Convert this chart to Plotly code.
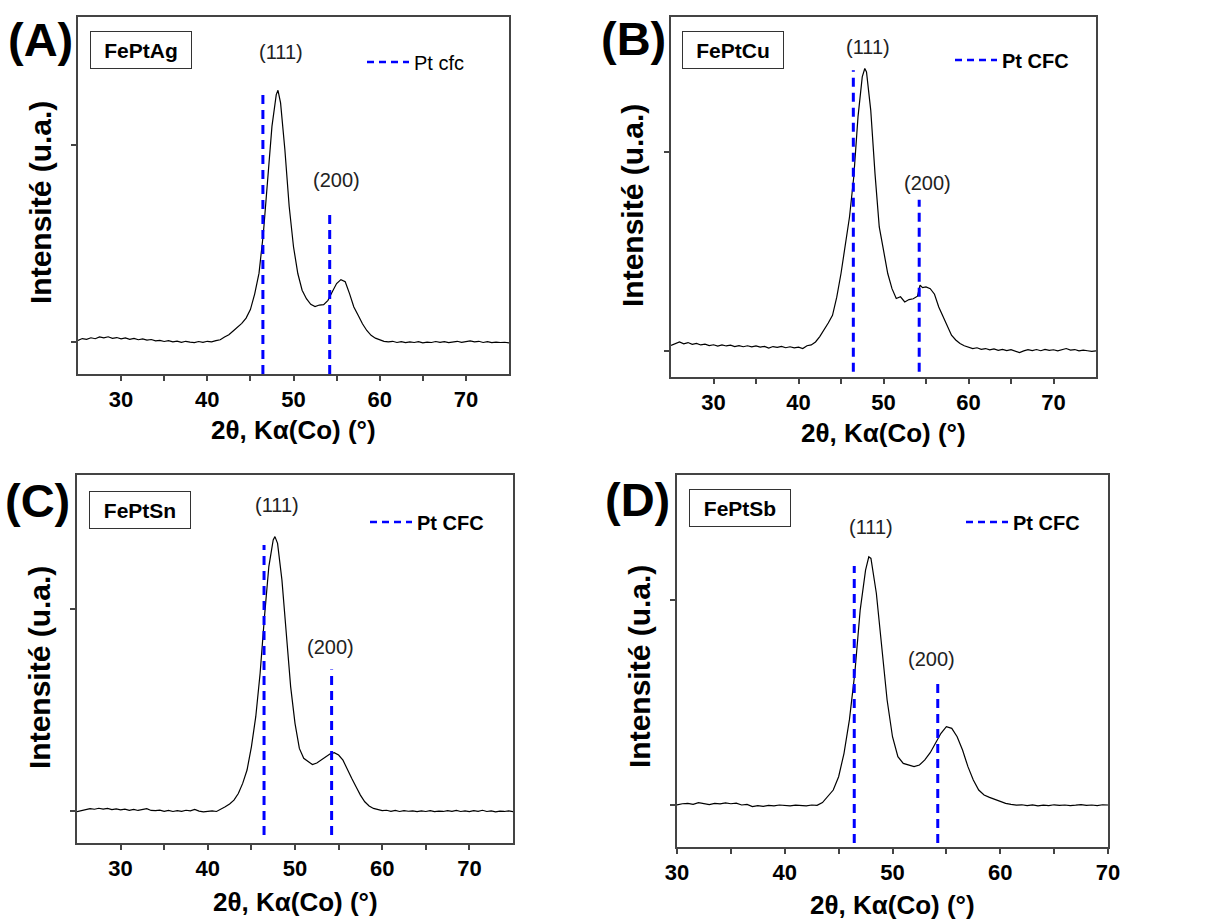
import plotly.graph_objects as go

FONT = "Liberation Sans, Arial, sans-serif"

# ---------------- data ----------------
# Panel A : FePtAg
A_x = [25.0, 25.5, 26.0, 26.5, 27.0, 27.5, 28.0, 28.5, 29.0, 29.5, 30.0, 30.5, 31.0, 31.5, 32.0, 32.5,
       33.0, 33.5, 34.0, 34.5, 35.0, 35.5, 36.0, 36.5, 37.0, 37.5, 38.0, 38.5, 39.0, 39.5, 40.0, 40.5,
       41.0, 41.5, 42.0, 42.5, 43.0, 43.5, 44.0, 44.5, 45.0, 45.5, 46.0, 46.5, 47.0, 47.5, 48.0, 48.2,
       48.5, 49.0, 49.5, 50.0, 50.5, 51.0, 51.5, 52.0, 52.5, 53.0, 53.5, 54.0, 54.5, 55.0, 55.5, 56.0,
       56.5, 57.0, 57.5, 58.0, 58.5, 59.0, 59.5, 60.0, 60.5, 61.0, 61.5, 62.0, 62.5, 63.0, 63.5, 64.0,
       64.5, 65.0, 65.5, 66.0, 66.5, 67.0, 67.5, 68.0, 68.5, 69.0, 69.5, 70.0, 70.5, 71.0, 71.5, 72.0,
       72.5, 73.0, 73.5, 74.0, 74.5, 75.0]
A_y = [0.008, 0.018, 0.014, 0.022, 0.017, 0.026, 0.021, 0.027, 0.019, 0.023, 0.016, 0.021, 0.014, 0.019, 0.012, 0.016,
       0.010, 0.013, 0.006, 0.009, 0.003, 0.007, 0.001, 0.005, -0.001, 0.004, 0.000, -0.003, 0.003, -0.001, 0.004, 0.001,
       0.007, 0.012, 0.026, 0.037, 0.056, 0.074, 0.095, 0.122, 0.165, 0.245, 0.350, 0.550, 0.820, 1.095, 1.256, 1.278,
       1.214, 0.976, 0.688, 0.484, 0.348, 0.263, 0.220, 0.192, 0.180, 0.188, 0.190, 0.212, 0.255, 0.297, 0.317, 0.306,
       0.246, 0.178, 0.136, 0.093, 0.059, 0.034, 0.020, 0.010, 0.004, 0.001, 0.004, -0.002, 0.002, -0.003, 0.001, -0.002,
       0.002, -0.004, 0.000, -0.002, 0.003, -0.001, 0.002, -0.003, 0.001, 0.004, -0.001, 0.003, 0.006, 0.001, 0.004, -0.002,
       0.002, -0.003, 0.000, -0.002, -0.001, -0.004]

# Panel B : FePtCu
B_x = [25.0, 25.5, 26.0, 26.5, 27.0, 27.5, 28.0, 28.5, 29.0, 29.5, 30.0, 30.5, 31.0, 31.5, 32.0, 32.5,
       33.0, 33.5, 34.0, 34.5, 35.0, 35.5, 36.0, 36.5, 37.0, 37.5, 38.0, 38.5, 39.0, 39.5, 40.0, 40.5,
       41.0, 41.5, 42.0, 42.5, 43.0, 43.5, 44.0, 44.5, 45.0, 45.5, 46.0, 46.5, 47.0, 47.5, 47.8, 48.0,
       48.5, 49.0, 49.5, 50.0, 50.5, 51.0, 51.5, 52.0, 52.5, 53.0, 53.5, 54.0, 54.3, 54.6, 55.0, 55.5,
       56.0, 56.5, 57.0, 57.5, 58.0, 58.5, 59.0, 59.5, 60.0, 60.5, 61.0, 61.5, 62.0, 62.5, 63.0, 63.5,
       64.0, 64.5, 65.0, 65.5, 66.0, 66.5, 67.0, 67.5, 68.0, 68.5, 69.0, 69.5, 70.0, 70.5, 71.0, 71.5,
       72.0, 72.5, 73.0, 73.5, 74.0, 74.5, 75.0]
B_y = [0.028, 0.035, 0.045, 0.036, 0.042, 0.033, 0.038, 0.030, 0.034, 0.027, 0.031, 0.024, 0.030, 0.025, 0.029, 0.022,
       0.027, 0.021, 0.026, 0.020, 0.025, 0.019, 0.023, 0.014, 0.022, 0.018, 0.023, 0.016, 0.021, 0.015, 0.019, 0.012,
       0.026, 0.030, 0.045, 0.072, 0.104, 0.140, 0.179, 0.270, 0.389, 0.523, 0.673, 0.874, 1.176, 1.377, 1.419, 1.402,
       1.209, 0.891, 0.623, 0.506, 0.389, 0.313, 0.263, 0.272, 0.246, 0.258, 0.262, 0.275, 0.330, 0.318, 0.322, 0.313,
       0.285, 0.221, 0.171, 0.121, 0.079, 0.055, 0.037, 0.026, 0.020, 0.012, 0.016, 0.008, 0.012, 0.005, 0.010, 0.003,
       0.008, 0.002, 0.006, -0.002, -0.008, 0.000, 0.006, 0.002, 0.007, 0.001, 0.008, 0.003, 0.006, 0.000, 0.005, 0.012,
       0.004, 0.007, 0.000, 0.004, 0.001, -0.002, 0.000]

# Panel C : FePtSn
C_x = [25.0, 25.5, 26.0, 26.5, 27.0, 27.5, 28.0, 28.5, 29.0, 29.5, 30.0, 30.5, 31.0, 31.5, 32.0, 32.5,
       33.0, 33.5, 34.0, 34.5, 35.0, 35.5, 36.0, 36.5, 37.0, 37.5, 38.0, 38.5, 39.0, 39.5, 40.0, 40.5,
       41.0, 41.5, 42.0, 42.5, 43.0, 43.5, 44.0, 44.5, 45.0, 45.5, 46.0, 46.5, 47.0, 47.5, 47.7, 48.0,
       48.5, 49.0, 49.5, 50.0, 50.5, 51.0, 51.5, 52.0, 52.5, 53.0, 53.5, 54.0, 54.5, 55.0, 55.5, 56.0,
       56.5, 57.0, 57.5, 58.0, 58.5, 59.0, 59.5, 60.0, 60.5, 61.0, 61.5, 62.0, 62.5, 63.0, 63.5, 64.0,
       64.5, 65.0, 65.5, 66.0, 66.5, 67.0, 67.5, 68.0, 68.5, 69.0, 69.5, 70.0, 70.5, 71.0, 71.5, 72.0,
       72.5, 73.0, 73.5, 74.0, 74.5, 75.0]
C_y = [-0.003, 0.002, 0.008, 0.012, 0.009, 0.014, 0.010, 0.013, 0.007, 0.011, 0.006, 0.010, 0.004, 0.008, 0.003, 0.006,
       0.012, 0.003, 0.002, 0.005, -0.001, 0.003, -0.002, 0.002, -0.001, 0.004, 0.001, 0.008, 0.000, -0.004, -0.003, 0.001,
       -0.002, 0.008, 0.021, 0.035, 0.054, 0.087, 0.137, 0.203, 0.318, 0.467, 0.682, 0.962, 1.210, 1.342, 1.358, 1.325,
       1.144, 0.880, 0.616, 0.434, 0.310, 0.261, 0.244, 0.230, 0.238, 0.252, 0.269, 0.282, 0.289, 0.277, 0.252, 0.211,
       0.162, 0.120, 0.079, 0.046, 0.025, 0.013, 0.006, 0.002, 0.004, -0.001, 0.003, -0.002, 0.002, -0.001, 0.001, -0.003,
       0.001, -0.002, 0.002, -0.003, 0.000, -0.002, 0.002, -0.001, 0.003, -0.002, 0.001, -0.003, 0.002, -0.001, 0.004, -0.002,
       0.001, -0.004, 0.000, -0.002, 0.001, -0.003]

# Panel D : FePtSb
D_x = [30.0, 30.5, 31.0, 31.5, 32.0, 32.5, 33.0, 33.5, 34.0, 34.5, 35.0, 35.5, 36.0, 36.5, 37.0, 37.5,
       38.0, 38.5, 39.0, 39.5, 40.0, 40.5, 41.0, 41.5, 42.0, 42.5, 43.0, 43.5, 44.0, 44.5, 45.0, 45.5,
       46.0, 46.5, 47.0, 47.5, 47.8, 48.0, 48.5, 49.0, 49.5, 50.0, 50.5, 51.0, 51.5, 52.0, 52.5, 53.0,
       53.5, 54.0, 54.5, 55.0, 55.5, 56.0, 56.5, 57.0, 57.5, 58.0, 58.5, 59.0, 59.5, 60.0, 60.5, 61.0,
       61.5, 62.0, 62.5, 63.0, 63.5, 64.0, 64.5, 65.0, 65.5, 66.0, 66.5, 67.0, 67.5, 68.0, 68.5, 69.0,
       69.5, 70.0]
D_y = [0.000, 0.006, 0.008, 0.003, 0.011, 0.005, 0.002, 0.008, 0.005, 0.010, 0.006, 0.009, 0.000, 0.003, -0.008, -0.003,
       -0.007, -0.002, -0.004, 0.000, -0.002, -0.004, -0.001, -0.003, -0.004, 0.000, -0.002, 0.012, 0.041, 0.073, 0.138, 0.252,
       0.415, 0.642, 0.951, 1.146, 1.211, 1.203, 1.033, 0.772, 0.512, 0.333, 0.236, 0.203, 0.195, 0.187, 0.195, 0.220,
       0.255, 0.301, 0.350, 0.382, 0.374, 0.333, 0.268, 0.187, 0.122, 0.073, 0.049, 0.037, 0.028, 0.016, 0.008, 0.003,
       -0.001, 0.001, -0.003, 0.000, -0.004, -0.001, -0.003, 0.001, -0.002, 0.000, -0.003, -0.001, 0.002, -0.002, 0.000, -0.003,
       0.001, 0.000]

# Pt fcc reference reflections (111), (200)
Pt_ref_x = [46.45, 54.2]
Pt_ref_top = {"A": [1.26, 0.67], "B": [1.41, 0.76], "C": [1.317, 0.70], "D": [1.166, 0.62]}
Pt_ref_bottom = {"A": -0.162, "B": -0.105, "C": -0.119, "D": -0.185}

samples = {"A": "FePtAg", "B": "FePtCu", "C": "FePtSn", "D": "FePtSb"}
legend_names = {"A": "Pt cfc", "B": "Pt CFC", "C": "Pt CFC", "D": "Pt CFC"}
hkl_labels = ["(111)", "(200)"]
hkl_pos = {"A": [(48.6, 1.472), (55.0, 0.822)],
           "B": [(48.2, 1.528), (55.2, 0.844)],
           "C": [(47.9, 1.515), (54.1, 0.812)],
           "D": [(48.0, 1.356), (53.65, 0.712)]}

x_tick_vals = [30, 40, 50, 60, 70]
x_minor_vals = [35, 45, 55, 65]
x_ranges = {"A": [25, 75], "B": [25, 75], "C": [25, 75], "D": [30, 70]}
y_ranges = {"A": [-0.162, 1.65], "B": [-0.131, 1.678], "C": [-0.158, 1.663], "D": [-0.205, 1.61]}

curves = {"A": (A_x, A_y), "B": (B_x, B_y), "C": (C_x, C_y), "D": (D_x, D_y)}

# ---------------- layout geometry (pixels in the 1210 x 921 figure) ----------------
W, H = 1210, 921
plot_px = {"A": (78, 509, 17, 374), "B": (671, 1096, 17, 377),
           "C": (77, 513, 475, 843), "D": (677, 1108, 475, 847)}
letter_px = {"A": (40, 39), "B": (633, 38), "C": (37, 500), "D": (637, 499)}
box_px = {"A": (140.5, 50), "B": (733, 50), "C": (140, 510), "D": (740, 508)}
legend_px = {"A": (362, 62), "B": (950, 60), "C": (365, 522), "D": (961, 522)}
xtitle_px = {"A": (293.5, 430), "B": (883.5, 433), "C": (295, 902), "D": (892.5, 905)}
ytitle_px = {"A": (40, 203), "B": (632, 206), "C": (39, 668), "D": (639, 667)}


def px(xp, yp):
    return xp / W, 1 - yp / H


fig = go.Figure()
annotations = []
panels = ["A", "B", "C", "D"]
legend_keys = ["legend", "legend2", "legend3", "legend4"]

for i, p in enumerate(panels):
    sfx = "" if i == 0 else str(i + 1)
    xa, ya = "x" + sfx, "y" + sfx
    lg = legend_keys[i]
    cx, cy = curves[p]
    fig.add_trace(go.Scatter(x=cx, y=cy, mode="lines", xaxis=xa, yaxis=ya,
                             line=dict(color="black", width=1.2), showlegend=False))
    for k, xr in enumerate(Pt_ref_x):
        fig.add_trace(go.Scatter(x=[xr, xr], y=[Pt_ref_bottom[p], Pt_ref_top[p][k]], mode="lines",
                                 xaxis=xa, yaxis=ya, showlegend=False,
                                 line=dict(color="#0000ff", width=3, dash="9px,6px")))
    # legend entry
    fig.add_trace(go.Scatter(x=[None], y=[None], mode="lines", xaxis=xa, yaxis=ya,
                             name=legend_names[p], legend=lg, showlegend=True,
                             line=dict(color="#0000ff", width=2.5, dash="7px,5px")))

    l, r, t, b = plot_px[p]
    x0, y0 = px(l, b)
    x1, y1 = px(r, t)
    fig.update_layout(**{
        "xaxis" + sfx: dict(domain=[x0, x1], range=x_ranges[p], anchor=ya, automargin=False,
                            tickmode="array", tickvals=x_tick_vals,
                            ticks="outside", ticklen=5, tickwidth=1.5, tickcolor="#444",
                            minor=dict(tickmode="array", tickvals=x_minor_vals, ticks="outside",
                                       ticklen=5, tickwidth=1.5, tickcolor="#444"),
                            showline=True, linecolor="#444", linewidth=1.5, mirror=True,
                            showgrid=False, zeroline=False,
                            tickfont=dict(family=FONT, size=22, color="black", weight="bold")),
        "yaxis" + sfx: dict(domain=[y0, y1], range=y_ranges[p], anchor=xa, automargin=False,
                            tickmode="array", tickvals=[0, 1], showticklabels=False,
                            ticks="outside", ticklen=5, tickwidth=1.5, tickcolor="#444",
                            showline=True, linecolor="#444", linewidth=1.5, mirror=True,
                            showgrid=False, zeroline=False),
    })

    lx, ly = px(*legend_px[p])
    fig.update_layout(**{lg: dict(x=lx, y=ly, xanchor="left", yanchor="middle",
                                  bgcolor="rgba(0,0,0,0)", borderwidth=0, itemwidth=42,
                                  font=dict(family=FONT, size=20, color="black",
                                            weight="normal" if p == "A" else "bold"))})

    # panel letter
    ax_, ay_ = px(*letter_px[p])
    annotations.append(dict(x=ax_, y=ay_, xref="paper", yref="paper", text="(" + p + ")",
                            showarrow=False, xanchor="center", yanchor="middle",
                            font=dict(family=FONT, size=47, color="black", weight="bold")))
    # sample box
    bx, by = px(*box_px[p])
    annotations.append(dict(x=bx, y=by, xref="paper", yref="paper", text=samples[p],
                            showarrow=False, xanchor="center", yanchor="middle",
                            width=90, height=26, borderpad=5, bordercolor="#333", borderwidth=1,
                            bgcolor="white",
                            font=dict(family=FONT, size=21, color="black", weight="bold")))
    # hkl labels
    for lab, (hx, hy) in zip(hkl_labels, hkl_pos[p]):
        annotations.append(dict(x=hx, y=hy, xref=xa, yref=ya, text=lab, showarrow=False,
                                xanchor="center", yanchor="middle",
                                font=dict(family=FONT, size=20, color="#222")))
    # axis titles
    tx, ty = px(*xtitle_px[p])
    annotations.append(dict(x=tx, y=ty, xref="paper", yref="paper", text="2θ, Kα(Co) (°)",
                            showarrow=False, xanchor="center", yanchor="middle",
                            font=dict(family=FONT, size=26, color="black", weight="bold")))
    yx, yy = px(*ytitle_px[p])
    annotations.append(dict(x=yx, y=yy, xref="paper", yref="paper", text="Intensité (u.a.)",
                            showarrow=False, xanchor="center", yanchor="middle", textangle=-90,
                            font=dict(family=FONT, size=30, color="black", weight="bold")))

fig.update_layout(width=W, height=H, autosize=False,
                  margin=dict(l=0, r=0, t=0, b=0, pad=0, autoexpand=False),
                  paper_bgcolor="white", plot_bgcolor="white",
                  annotations=annotations)

# remove the browser's default 8px page margin so the figure fills the window
fig.write_html("out.html", config={"displayModeBar": False},
               post_script="document.body.style.margin='0';")
